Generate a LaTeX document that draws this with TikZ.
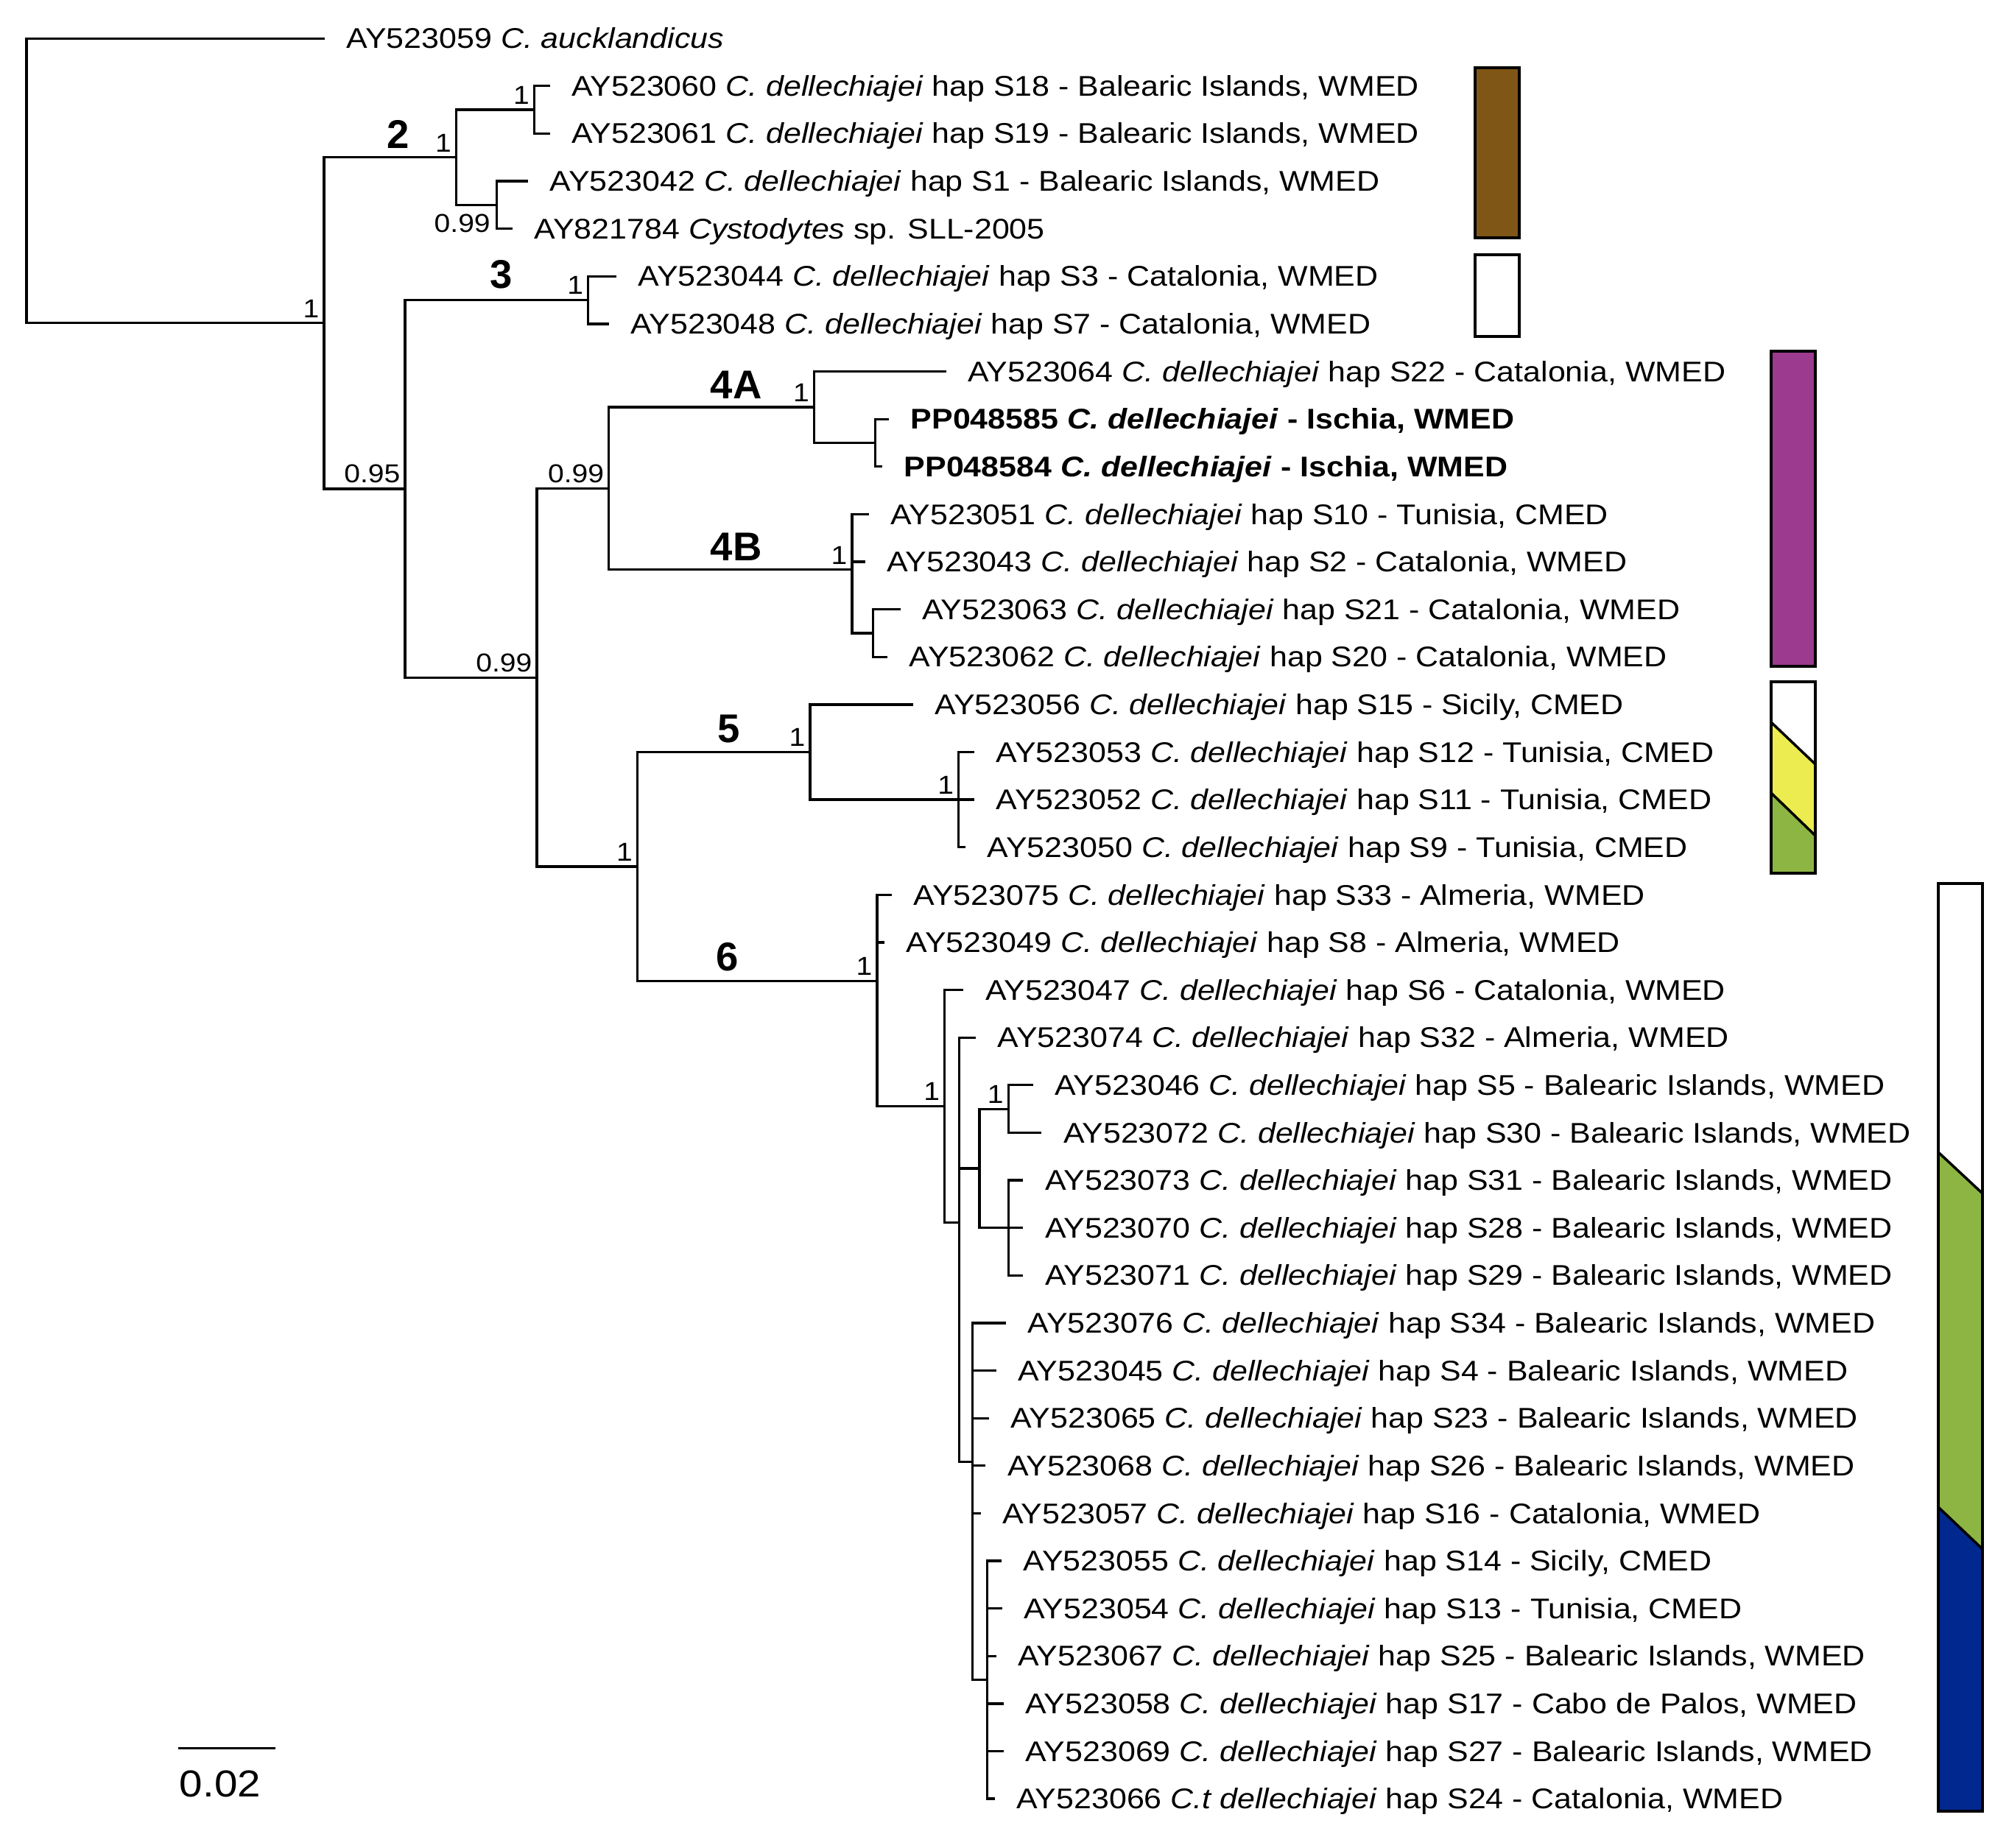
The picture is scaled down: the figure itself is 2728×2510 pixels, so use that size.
\documentclass[tikz,border=0pt]{standalone}
\usepackage{fontspec}
\setmainfont{Liberation Sans}[FakeStretch=1.11]
\newfontfamily\cladefamily{Liberation Sans}
\newcommand\leaffont{\fontsize{11}{13}\selectfont}
\newcommand\supfont{\fontsize{10}{12}\selectfont}
\newcommand\cladefnt{\cladefamily\bfseries\fontsize{15.5}{18}\selectfont}
\newcommand\scalefnt{\fontsize{14.5}{17}\selectfont}
\newcommand\Cd{\textit{C. dellechiajei}}
\definecolor{brownbar}{RGB}{128,86,23}
\definecolor{purplebar}{RGB}{155,58,142}
\definecolor{yellowbar}{RGB}{236,236,80}
\definecolor{greenbar}{RGB}{141,181,67}
\definecolor{bluebar}{RGB}{0,40,142}
\begin{document}
\begin{tikzpicture}[x=0.01cm,y=-0.01cm,
  br/.style={line width=0.95pt, line join=miter},
  leaflab/.style={anchor=base west, inner sep=0pt, xshift=0.29cm, yshift=-0.136cm, font=\leaffont},
  suplab/.style={anchor=south east, inner sep=0pt, xshift=-0.06cm, yshift=0.07cm, font=\supfont},
  suplabbelow/.style={anchor=north east, inner sep=0pt, xshift=-0.08cm, yshift=-0.116cm, font=\supfont},
  cladelab/.style={anchor=base, inner sep=0pt, font=\cladefnt},
  barline/.style={draw=black, line width=1pt, line join=miter}]
\useasboundingbox (0,0) rectangle (2728,2510);

% internal nodes
\coordinate (root) at (36,245.5);
\coordinate (A) at (440,438.8);
\coordinate (n2) at (619.5,213.8);
\coordinate (n2a) at (725.5,149.1);
\coordinate (n2b) at (674.4,278.4);
\coordinate (B) at (550,663.9);
\coordinate (n3) at (798.7,407.6);
\coordinate (C) at (729,920.2);
\coordinate (D) at (826.8,663.4);
\coordinate (n4A) at (1105.4,553.0);
\coordinate (n4Ab) at (1188.4,601.5);
\coordinate (n4B) at (1157,773.8);
\coordinate (n4Bb) at (1185.6,860.0);
\coordinate (E) at (865.6,1177.0);
\coordinate (n5) at (1100,1021.5);
\coordinate (n5b) at (1301.8,1086.1);
\coordinate (n6) at (1191,1332.6);
\coordinate (F) at (1282.7,1502.5);
\coordinate (G) at (1302.5,1660.4);
\coordinate (K) at (1330,1586.9);
\coordinate (n23) at (1369.3,1506.2);
\coordinate (n25) at (1369.3,1667.7);
\coordinate (H) at (1320.7,1985.2);
\coordinate (I) at (1340.7,2281.6);

% tips
\coordinate (lf1) at (441,52.2);
\coordinate (lf2) at (746.5,116.8);
\coordinate (lf3) at (746.5,181.4);
\coordinate (lf4) at (717,246.1);
\coordinate (lf5) at (696,310.7);
\coordinate (lf6) at (837,375.3);
\coordinate (lf7) at (826.5,439.9);
\coordinate (lf8) at (1284.5,504.5);
\coordinate (lf9) at (1207,569.2);
\coordinate (lf10) at (1198,633.8);
\coordinate (lf11) at (1179.5,698.4);
\coordinate (lf12) at (1174.5,763.0);
\coordinate (lf13) at (1222.5,827.6);
\coordinate (lf14) at (1205,892.3);
\coordinate (lf15) at (1240,956.9);
\coordinate (lf16) at (1323,1021.5);
\coordinate (lf17) at (1323,1086.1);
\coordinate (lf18) at (1311,1150.7);
\coordinate (lf19) at (1211,1215.4);
\coordinate (lf20) at (1201,1280.0);
\coordinate (lf21) at (1308.3,1344.6);
\coordinate (lf22) at (1325,1409.2);
\coordinate (lf23) at (1402.7,1473.8);
\coordinate (lf24) at (1414.3,1538.5);
\coordinate (lf25) at (1389.3,1603.1);
\coordinate (lf26) at (1389.3,1667.7);
\coordinate (lf27) at (1389.3,1732.3);
\coordinate (lf28) at (1366,1796.9);
\coordinate (lf29) at (1352.7,1861.6);
\coordinate (lf30) at (1342.7,1926.2);
\coordinate (lf31) at (1338.3,1990.8);
\coordinate (lf32) at (1331.7,2055.4);
\coordinate (lf33) at (1360,2120.0);
\coordinate (lf34) at (1360.7,2184.7);
\coordinate (lf35) at (1352.7,2249.3);
\coordinate (lf36) at (1362.7,2313.9);
\coordinate (lf37) at (1362.7,2378.5);
\coordinate (lf38) at (1350.7,2443.1);

% branches
\draw[br] (root) |- (lf1);
\draw[br] (root) |- (A);
\draw[br] (A) |- (n2);
\draw[br] (A) |- (B);
\draw[br] (n2) |- (n2a);
\draw[br] (n2) |- (n2b);
\draw[br] (n2a) |- (lf2);
\draw[br] (n2a) |- (lf3);
\draw[br] (n2b) |- (lf4);
\draw[br] (n2b) |- (lf5);
\draw[br] (B) |- (n3);
\draw[br] (B) |- (C);
\draw[br] (n3) |- (lf6);
\draw[br] (n3) |- (lf7);
\draw[br] (C) |- (D);
\draw[br] (C) |- (E);
\draw[br] (D) |- (n4A);
\draw[br] (D) |- (n4B);
\draw[br] (n4A) |- (lf8);
\draw[br] (n4A) |- (n4Ab);
\draw[br] (n4Ab) |- (lf9);
\draw[br] (n4Ab) |- (lf10);
\draw[br] (n4B) |- (lf11);
\draw[br] (n4B) |- (lf12);
\draw[br] (n4B) |- (n4Bb);
\draw[br] (n4Bb) |- (lf13);
\draw[br] (n4Bb) |- (lf14);
\draw[br] (E) |- (n5);
\draw[br] (E) |- (n6);
\draw[br] (n5) |- (lf15);
\draw[br] (n5) |- (n5b);
\draw[br] (n5b) |- (lf16);
\draw[br] (n5b) |- (lf17);
\draw[br] (n5b) |- (lf18);
\draw[br] (n6) |- (lf19);
\draw[br] (n6) |- (lf20);
\draw[br] (n6) |- (F);
\draw[br] (F) |- (lf21);
\draw[br] (F) |- (G);
\draw[br] (G) |- (lf22);
\draw[br] (G) |- (K);
\draw[br] (G) |- (H);
\draw[br] (K) |- (n23);
\draw[br] (K) |- (n25);
\draw[br] (n23) |- (lf23);
\draw[br] (n23) |- (lf24);
\draw[br] (n25) |- (lf25);
\draw[br] (n25) |- (lf26);
\draw[br] (n25) |- (lf27);
\draw[br] (H) |- (lf28);
\draw[br] (H) |- (lf29);
\draw[br] (H) |- (lf30);
\draw[br] (H) |- (lf31);
\draw[br] (H) |- (lf32);
\draw[br] (H) |- (I);
\draw[br] (I) |- (lf33);
\draw[br] (I) |- (lf34);
\draw[br] (I) |- (lf35);
\draw[br] (I) |- (lf36);
\draw[br] (I) |- (lf37);
\draw[br] (I) |- (lf38);

% support values
\node[suplab] (sA) at (A) {1};
\node[suplab] (sB) at (B) {0.95};
\node[suplab] (sC) at (C) {0.99};
\node[suplab] (sD) at (D) {0.99};
\node[suplab] (s2) at (n2) {1};
\node[suplab] (s2a) at (n2a) {1};
\node[suplabbelow] (s2b) at (n2b) {0.99};
\node[suplab] (s3) at (n3) {1};
\node[suplab] (s4A) at (n4A) {1};
\node[suplab] (s4B) at (n4B) {1};
\node[suplab] (sE) at (E) {1};
\node[suplab] (s5) at (n5) {1};
\node[suplab] (s5b) at (n5b) {1};
\node[suplab] (s6) at (n6) {1};
\node[suplab] (sF) at (F) {1};
\node[suplab] (s23) at (n23) {1};

% clade labels
\node[cladelab] (c2) at (541,201.7) {2};
\node[cladelab] (c3) at (681,391.7) {3};
\node[cladelab] (c4a) at (999.6,541.7) {4A};
\node[cladelab] (c4b) at (999.6,761.7) {4B};
\node[cladelab] (c5) at (989.5,1008.3) {5};
\node[cladelab] (c6) at (988,1318) {6};

% leaf labels
\node[leaflab] (t1) at (lf1) {AY523059 \textit{C. aucklandicus}};
\node[leaflab] (t2) at (lf2) {AY523060 \Cd{} hap S18 - Balearic Islands, WMED};
\node[leaflab] (t3) at (lf3) {AY523061 \Cd{} hap S19 - Balearic Islands, WMED};
\node[leaflab] (t4) at (lf4) {AY523042 \Cd{} hap S1 - Balearic Islands, WMED};
\node[leaflab] (t5) at (lf5) {AY821784 \textit{Cystodytes} sp. SLL-2005};
\node[leaflab] (t6) at (lf6) {AY523044 \Cd{} hap S3 - Catalonia, WMED};
\node[leaflab] (t7) at (lf7) {AY523048 \Cd{} hap S7 - Catalonia, WMED};
\node[leaflab] (t8) at (lf8) {AY523064 \Cd{} hap S22 - Catalonia, WMED};
\node[leaflab] (t9) at (lf9) {\bfseries PP048585 \textit{C. dellechiajei} - Ischia, WMED};
\node[leaflab] (t10) at (lf10) {\bfseries PP048584 \textit{C. dellechiajei} - Ischia, WMED};
\node[leaflab] (t11) at (lf11) {AY523051 \Cd{} hap S10 - Tunisia, CMED};
\node[leaflab] (t12) at (lf12) {AY523043 \Cd{} hap S2 - Catalonia, WMED};
\node[leaflab] (t13) at (lf13) {AY523063 \Cd{} hap S21 - Catalonia, WMED};
\node[leaflab] (t14) at (lf14) {AY523062 \Cd{} hap S20 - Catalonia, WMED};
\node[leaflab] (t15) at (lf15) {AY523056 \Cd{} hap S15 - Sicily, CMED};
\node[leaflab] (t16) at (lf16) {AY523053 \Cd{} hap S12 - Tunisia, CMED};
\node[leaflab] (t17) at (lf17) {AY523052 \Cd{} hap S11 - Tunisia, CMED};
\node[leaflab] (t18) at (lf18) {AY523050 \Cd{} hap S9 - Tunisia, CMED};
\node[leaflab] (t19) at (lf19) {AY523075 \Cd{} hap S33 - Almeria, WMED};
\node[leaflab] (t20) at (lf20) {AY523049 \Cd{} hap S8 - Almeria, WMED};
\node[leaflab] (t21) at (lf21) {AY523047 \Cd{} hap S6 - Catalonia, WMED};
\node[leaflab] (t22) at (lf22) {AY523074 \Cd{} hap S32 - Almeria, WMED};
\node[leaflab] (t23) at (lf23) {AY523046 \Cd{} hap S5 - Balearic Islands, WMED};
\node[leaflab] (t24) at (lf24) {AY523072 \Cd{} hap S30 - Balearic Islands, WMED};
\node[leaflab] (t25) at (lf25) {AY523073 \Cd{} hap S31 - Balearic Islands, WMED};
\node[leaflab] (t26) at (lf26) {AY523070 \Cd{} hap S28 - Balearic Islands, WMED};
\node[leaflab] (t27) at (lf27) {AY523071 \Cd{} hap S29 - Balearic Islands, WMED};
\node[leaflab] (t28) at (lf28) {AY523076 \Cd{} hap S34 - Balearic Islands, WMED};
\node[leaflab] (t29) at (lf29) {AY523045 \Cd{} hap S4 - Balearic Islands, WMED};
\node[leaflab] (t30) at (lf30) {AY523065 \Cd{} hap S23 - Balearic Islands, WMED};
\node[leaflab] (t31) at (lf31) {AY523068 \Cd{} hap S26 - Balearic Islands, WMED};
\node[leaflab] (t32) at (lf32) {AY523057 \Cd{} hap S16 - Catalonia, WMED};
\node[leaflab] (t33) at (lf33) {AY523055 \Cd{} hap S14 - Sicily, CMED};
\node[leaflab] (t34) at (lf34) {AY523054 \Cd{} hap S13 - Tunisia, CMED};
\node[leaflab] (t35) at (lf35) {AY523067 \Cd{} hap S25 - Balearic Islands, WMED};
\node[leaflab] (t36) at (lf36) {AY523058 \Cd{} hap S17 - Cabo de Palos, WMED};
\node[leaflab] (t37) at (lf37) {AY523069 \Cd{} hap S27 - Balearic Islands, WMED};
\node[leaflab] (t38) at (lf38) {AY523066 \textit{C.t dellechiajei} hap S24 - Catalonia, WMED};

% colour bars
\filldraw[barline, fill=brownbar] (2003,92) rectangle (2063,323);
\draw[barline] (2003,346) rectangle (2063,457);
\filldraw[barline, fill=purplebar] (2405,477) rectangle (2465,905);
% clade 5 bar
\fill[yellowbar] (2405,981) -- (2465,1038) -- (2465,1135) -- (2405,1077) -- cycle;
\fill[greenbar] (2405,1077) -- (2465,1135) -- (2465,1186) -- (2405,1186) -- cycle;
\draw[barline] (2405,981) -- (2465,1038);
\draw[barline] (2405,1077) -- (2465,1135);
\draw[barline] (2405,926) rectangle (2465,1186);
% clade 6 bar
\fill[greenbar] (2632,1565) -- (2692,1621) -- (2692,2104) -- (2632,2047) -- cycle;
\fill[bluebar] (2632,2047) -- (2692,2104) -- (2692,2460) -- (2632,2460) -- cycle;
\draw[barline] (2632,1565) -- (2692,1621);
\draw[barline] (2632,2047) -- (2692,2104);
\draw[barline] (2632,1200) rectangle (2692,2460);

% scale bar
\coordinate (sb1) at (241.7,2374.3);
\coordinate (sb2) at (374,2374.3);
\draw[br] (sb1) -- (sb2);
\node[anchor=base, inner sep=0pt, font=\scalefnt] (sbl) at (299,2440) {0.02};
\end{tikzpicture}
\end{document}
